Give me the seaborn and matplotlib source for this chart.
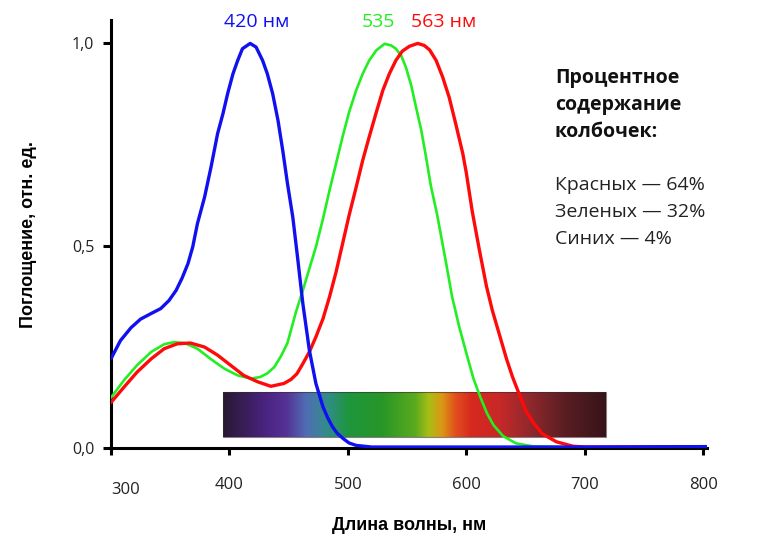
import numpy as np
import pandas as pd
import matplotlib
matplotlib.use("Agg")
import matplotlib.pyplot as plt
import seaborn as sns
from matplotlib.colors import LinearSegmentedColormap
from matplotlib.patches import Rectangle
from matplotlib.transforms import ScaledTranslation

# ---------------- data ----------------
blue_wl = [300, 308, 317, 325, 334, 342, 349, 355, 360, 365, 369, 373, 379, 384.5, 390, 394.5, 398.5,
           403, 407, 411, 417.5, 422.5, 428, 432, 436.5, 441, 445, 449, 453.5, 457.5, 462, 467.5,
           473, 479, 483, 487, 491, 496, 501, 507, 520, 600, 700, 803]
blue_val = [0.221, 0.266, 0.298, 0.319, 0.333, 0.345, 0.365, 0.39, 0.42, 0.456, 0.497, 0.555, 0.62,
            0.695, 0.777, 0.826, 0.876, 0.925, 0.958, 0.987, 1.0, 0.991, 0.958, 0.925, 0.876, 0.81,
            0.736, 0.654, 0.571, 0.472, 0.357, 0.242, 0.16, 0.102, 0.075, 0.053, 0.037, 0.024,
            0.013, 0.007, 0.003, 0.003, 0.003, 0.004]

green_wl = [300, 311, 322, 334, 345, 353, 362, 373, 384, 395.5, 407, 418, 426, 432, 438, 444, 449,
            456, 462, 467.5, 473, 479, 484.5, 490, 495.5, 501, 507, 512.5, 518, 524, 531, 536.5,
            540.5, 545, 549, 553.5, 557.5, 562, 566, 570, 575.5, 583, 588, 594, 600, 606, 612,
            617.5, 623, 631, 642, 656, 700, 803]
green_val = [0.125, 0.168, 0.205, 0.238, 0.257, 0.262, 0.26, 0.246, 0.221, 0.197, 0.18, 0.172, 0.176,
             0.185, 0.201, 0.23, 0.26, 0.335, 0.39, 0.444, 0.497, 0.567, 0.637, 0.703, 0.769, 0.83,
             0.884, 0.925, 0.958, 0.983, 0.999, 0.995, 0.987, 0.97, 0.941, 0.896, 0.843, 0.785,
             0.719, 0.649, 0.575, 0.456, 0.374, 0.30, 0.235, 0.172, 0.125, 0.086, 0.057, 0.03,
             0.012, 0.005, 0.002, 0.002]

red_wl = [300, 311, 322, 334, 345, 356, 367, 379, 390, 401, 412, 424, 435, 446, 452, 457, 462,
          467.5, 473, 479, 484.5, 490, 495.5, 501, 507, 512.5, 518, 524, 529.5, 535, 540.5, 546,
          552, 559, 564.5, 569, 574.5, 580, 585.5, 591, 597, 600, 605, 611, 617, 622, 628, 634,
          639, 645, 650, 656, 664, 676, 690, 701, 803]
red_val = [0.113, 0.151, 0.188, 0.221, 0.246, 0.258, 0.26, 0.25, 0.23, 0.205, 0.18, 0.164, 0.153,
           0.16, 0.17, 0.184, 0.209, 0.238, 0.275, 0.32, 0.374, 0.435, 0.505, 0.575, 0.645, 0.711,
           0.769, 0.83, 0.884, 0.925, 0.958, 0.981, 0.993, 1.0, 0.995, 0.984, 0.958, 0.917, 0.867,
           0.802, 0.728, 0.68, 0.585, 0.49, 0.40, 0.34, 0.28, 0.22, 0.176, 0.131, 0.094, 0.065,
           0.036, 0.016, 0.005, 0.003, 0.004]

peak_labels = ["420 нм", "535", "563 нм"]
peak_label_x = [423, 526, 581]

x_ticks = [300, 400, 500, 600, 700, 800]
y_ticks = [0.0, 0.5, 1.0]
y_tick_labels = ["0,0", "0,5", "1,0"]

title_lines = ["Процентное", "содержание", "колбочек:"]
share_lines = ["Красных — 64%", "Зеленых — 32%", "Синих — 4%"]

# visible spectrum strip (wavelength stops and colours)
spec_wl = [395, 431, 448, 465, 482, 501, 529, 557, 569, 580, 591, 605, 628, 656, 684, 718]
spec_col = ["#281932", "#4b2382", "#553296", "#506eb4", "#328c8c", "#1e963c", "#289628",
            "#5aaa1e", "#aabe14", "#dc9614", "#e1501e", "#d7281e", "#c82828", "#8c282d",
            "#5a1e23", "#371419"]

# ---------------- style ----------------
sns.set_theme(style="white")
plt.rcParams["font.family"] = ["Open Sans", "DejaVu Sans"]

fig = plt.figure(figsize=(7.6, 5.5), dpi=100)
ax = fig.add_axes([0.146, 0.185, 0.784, 0.778])

# spectrum strip
x0, x1 = spec_wl[0], spec_wl[-1]
pos = [(w - x0) / (x1 - x0) for w in spec_wl]
cmap = LinearSegmentedColormap.from_list("spec", list(zip(pos, spec_col)))
grad = np.linspace(0, 1, 512)[None, :]
ax.imshow(grad, extent=[x0, x1, 0.027, 0.138], aspect="auto", cmap=cmap,
          origin="lower", zorder=1, interpolation="bilinear")
ax.add_patch(Rectangle((x0, 0.027), x1 - x0, 0.111, fill=False,
                       edgecolor="#3a2a30", linewidth=0.8, alpha=0.6, zorder=1.5))

df_g = pd.DataFrame({"wl": green_wl, "v": green_val})
df_r = pd.DataFrame({"wl": red_wl, "v": red_val})
df_b = pd.DataFrame({"wl": blue_wl, "v": blue_val})

kw = dict(sort=False, solid_joinstyle="round", solid_capstyle="round")
sns.lineplot(data=df_g, x="wl", y="v", ax=ax, color="#22ee22", linewidth=1.9, zorder=3, **kw)
sns.lineplot(data=df_r, x="wl", y="v", ax=ax, color="#ff0a0a", linewidth=2.4, zorder=4, **kw)
sns.lineplot(data=df_b, x="wl", y="v", ax=ax, color="#1010f0", linewidth=2.4, zorder=5, **kw)

ax.set_xlim(300, 803)
ax.set_ylim(0, 1.057)
ax.set_xticks(x_ticks)
ax.set_xticklabels([str(t) for t in x_ticks])
ax.set_yticks(y_ticks)
ax.set_yticklabels(y_tick_labels)

for s in ["top", "right"]:
    ax.spines[s].set_visible(False)
for s in ["left", "bottom"]:
    ax.spines[s].set_color("black")
    ax.spines[s].set_linewidth(2.2)

ax.tick_params(axis="x", direction="out", length=5, width=2.2, color="black",
               pad=16, labelsize=12, labelcolor="#222222", bottom=True)
ax.tick_params(axis="y", direction="out", length=6, width=2.2, color="black",
               pad=6, labelsize=11.5, labelcolor="#222222", left=True)

# first x tick label sits a little right and lower in the original
first = ax.get_xticklabels()[0]
first.set_transform(first.get_transform() + ScaledTranslation(15 / 100, -5 / 100, fig.dpi_scale_trans))

ax.set_xlabel("Длина волны, нм", fontsize=13, fontweight="bold",
              family=["Liberation Sans", "DejaVu Sans"], va="center", color="black")
ax.xaxis.set_label_coords(0.5, -0.18)
ax.set_ylabel("Поглощение, отн. ед.", fontsize=13, fontweight="bold",
              family=["Liberation Sans", "DejaVu Sans"], va="center", color="black")
ax.yaxis.set_label_coords(-0.139, 0.5)

peak_colors = ["#1010f0", "#22ee22", "#ff0a0a"]
for lab, xx, c in zip(peak_labels, peak_label_x, peak_colors):
    ax.text(xx, 1.052, lab, color=c, fontsize=14, ha="center", va="center", clip_on=False)

tx = 555 / 760
for i, line in enumerate(title_lines):
    fig.text(tx, 1 - (77.7 + i * 27) / 550, line, fontsize=14, fontweight="bold",
             color="#111111", ha="left", va="center")
for i, line in enumerate(share_lines):
    fig.text(tx, 1 - (185 + i * 27) / 550, line, fontsize=14,
             color="#222222", ha="left", va="center")

fig.savefig("out.png", dpi=100, facecolor="white")
